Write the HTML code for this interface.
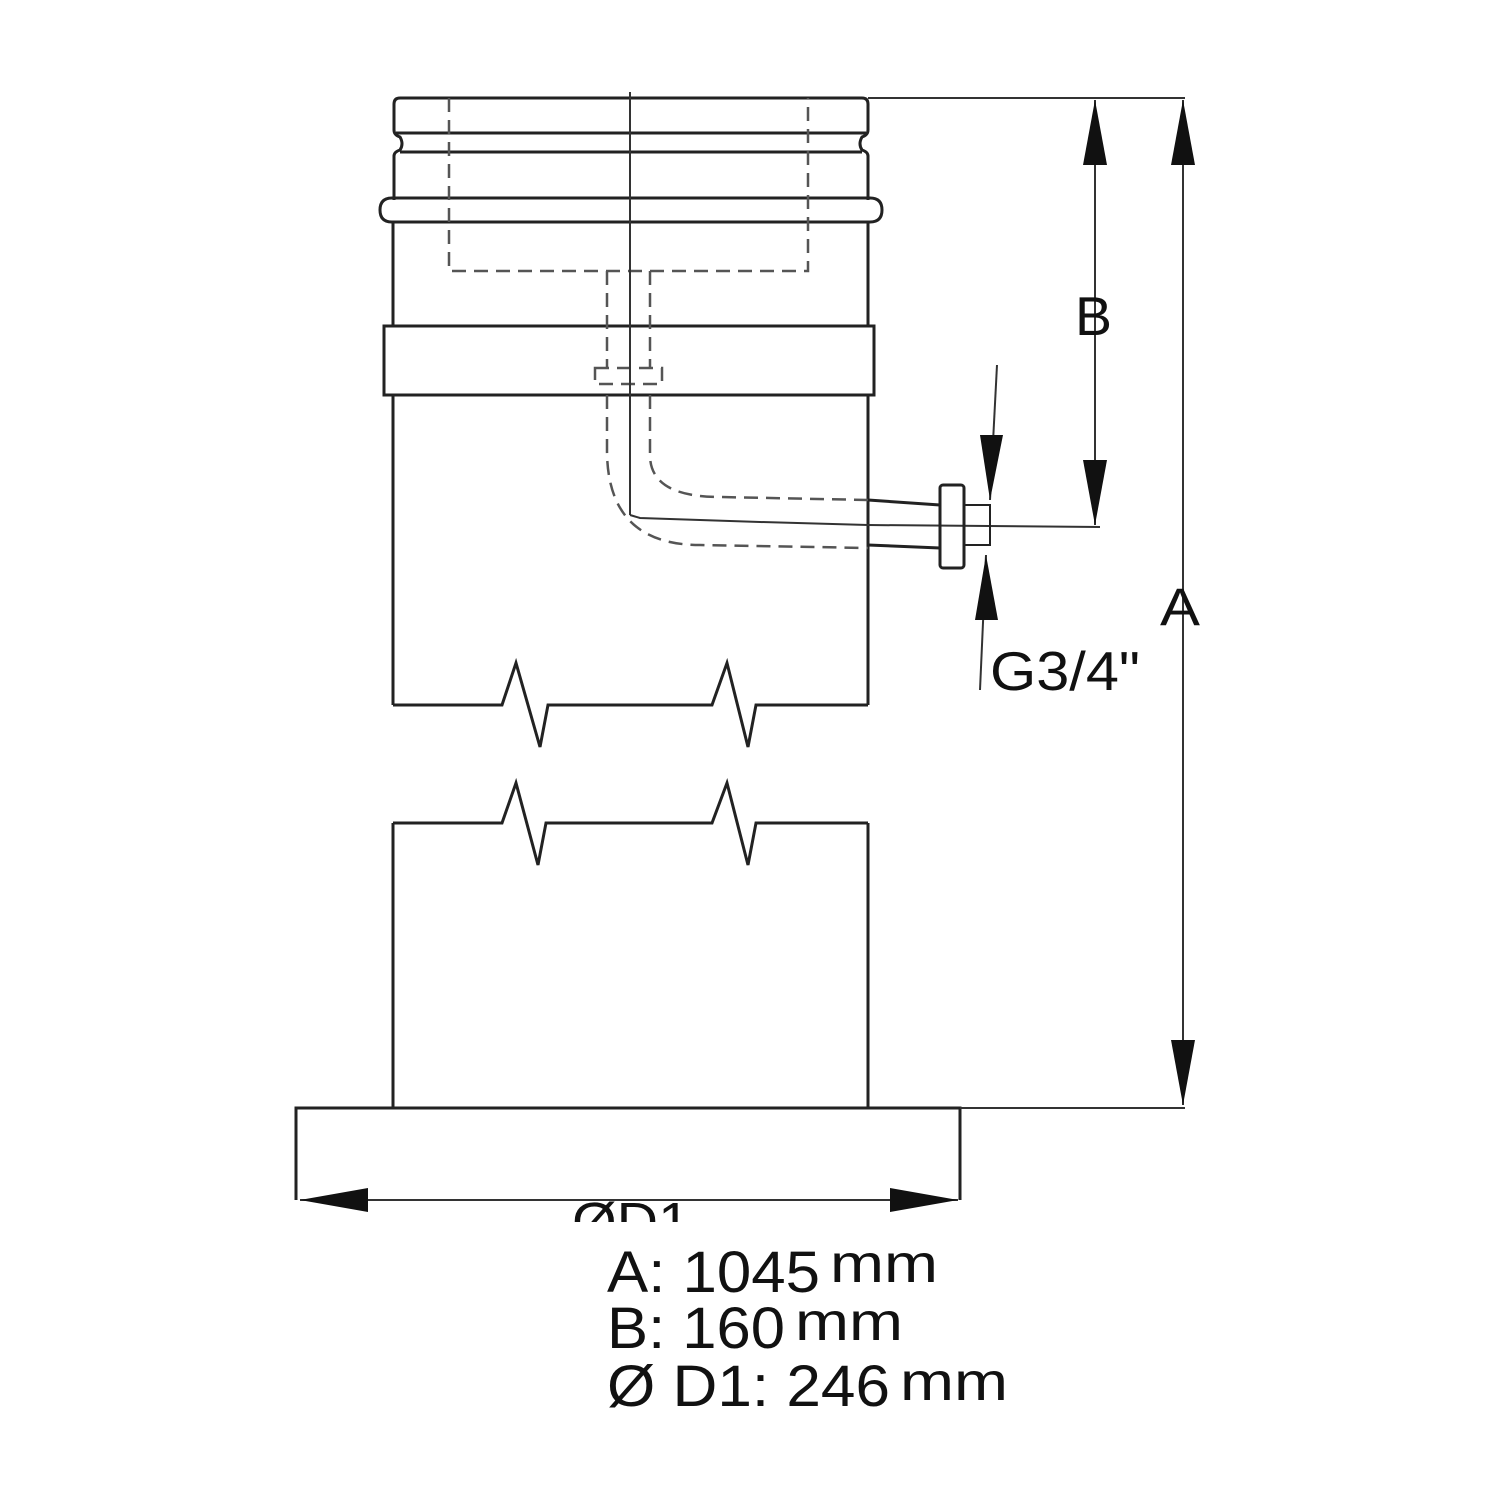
<!DOCTYPE html>
<html><head><style>body{margin:0;background:#fff}svg{display:block}</style></head><body>
<svg width="1500" height="1500" viewBox="0 0 1500 1500" xmlns="http://www.w3.org/2000/svg" font-family="Liberation Sans, sans-serif">
<defs><clipPath id="c"><rect x="0" y="0" width="1500" height="1222"/></clipPath></defs>
<g fill="none" stroke="#222" stroke-width="3">
<path d="M400 98 H862 Q868 98 868 104 V130 Q868 135 862 137 Q858 144 862 150 Q868 152 868 156 V200"/>
<path d="M400 98 Q394 98 394 104 V130 Q394 135 400 137 Q404 144 400 150 Q394 152 394 156 V200"/>
<line x1="396" y1="133" x2="866" y2="133"/>
<line x1="400" y1="152" x2="862" y2="152"/>
<path d="M392 198 H870 Q882 198 882 210 Q882 222 870 222 H392 Q380 222 380 210 Q380 198 392 198 Z"/>
<line x1="393" y1="222" x2="393" y2="326"/>
<line x1="868" y1="222" x2="868" y2="326"/>
<rect x="384" y="326" width="490" height="69"/>
<line x1="393" y1="395" x2="393" y2="705"/>
<line x1="868" y1="395" x2="868" y2="705"/>
<polyline points="393,705 502,705 516,663 540,747 548,705 712,705 727,663 748,747 756,705 868,705"/>
<polyline points="393,823 502,823 516,783 538,865 546,823 712,823 727,783 748,865 756,823 868,823"/>
<line x1="393" y1="823" x2="393" y2="1108"/>
<line x1="868" y1="823" x2="868" y2="1108"/>
<polyline points="296,1200 296,1108 960,1108 960,1200"/>
</g>
<g fill="none" stroke="#555" stroke-width="2.5" stroke-dasharray="14 8">
<polyline points="449,98 449,271 808,271 808,98"/>
<path d="M607 395 V450 Q607 545 700 545 L868 548"/>
<path d="M650 395 V455 Q650 497 720 497 L868 500"/>
<path d="M607 271 V368 M650 271 V368"/>
<rect x="595" y="368" width="67" height="16"/>
</g>
<g fill="none" stroke="#333" stroke-width="2">
<line x1="630" y1="92" x2="630" y2="515"/>
<polyline points="630,515 640,518 760,522 868,525"/>
<line x1="868" y1="525" x2="1100" y2="527"/>
<line x1="868" y1="98" x2="1185" y2="98"/>
<line x1="960" y1="1108" x2="1185" y2="1108"/>
<line x1="1095" y1="100" x2="1095" y2="525"/>
<line x1="1183" y1="100" x2="1183" y2="1105"/>
<line x1="997" y1="365" x2="990" y2="500"/>
<line x1="986" y1="555" x2="980" y2="690"/>
<line x1="300" y1="1200" x2="958" y2="1200"/>
</g>
<g fill="none" stroke="#222" stroke-width="3">
<path d="M868 500 L940 505 M868 545 L940 548"/>
<rect x="940" y="485" width="24" height="83" rx="3"/>
<path d="M964 505 H990 V545 H964" stroke-width="2"/>
</g>
<g fill="#111">
<polygon points="1095,100 1083,165 1107,165"/>
<polygon points="1095,525 1083,460 1107,460"/>
<polygon points="1183,100 1171,165 1195,165"/>
<polygon points="1183,1105 1171,1040 1195,1040"/>
<polygon points="990,500 980,435 1003,435"/>
<polygon points="986,555 975,620 998,620"/>
<polygon points="300,1200 368,1188 368,1212"/>
<polygon points="958,1200 890,1188 890,1212"/>
</g>
<g fill="#111">
<text x="1075" y="335" font-size="55" textLength="37" lengthAdjust="spacingAndGlyphs">B</text>
<text x="1160" y="625" font-size="53" textLength="40" lengthAdjust="spacingAndGlyphs">A</text>
<text x="990" y="690" font-size="55" textLength="150" lengthAdjust="spacingAndGlyphs">G3/4"</text>
<text x="572" y="1240" font-size="54" clip-path="url(#c)" textLength="118" lengthAdjust="spacingAndGlyphs">ØD1</text>
<text x="607" y="1292" font-size="58" textLength="213" lengthAdjust="spacingAndGlyphs">A: 1045</text>
<text x="830" y="1282" font-size="54" textLength="108" lengthAdjust="spacingAndGlyphs">mm</text>
<text x="607" y="1348" font-size="58" textLength="178" lengthAdjust="spacingAndGlyphs">B: 160</text>
<text x="795" y="1340" font-size="54" textLength="108" lengthAdjust="spacingAndGlyphs">mm</text>
<text x="607" y="1406" font-size="58" textLength="283" lengthAdjust="spacingAndGlyphs">Ø D1: 246</text>
<text x="900" y="1400" font-size="54" textLength="108" lengthAdjust="spacingAndGlyphs">mm</text>
</g>
</svg>
</body></html>
